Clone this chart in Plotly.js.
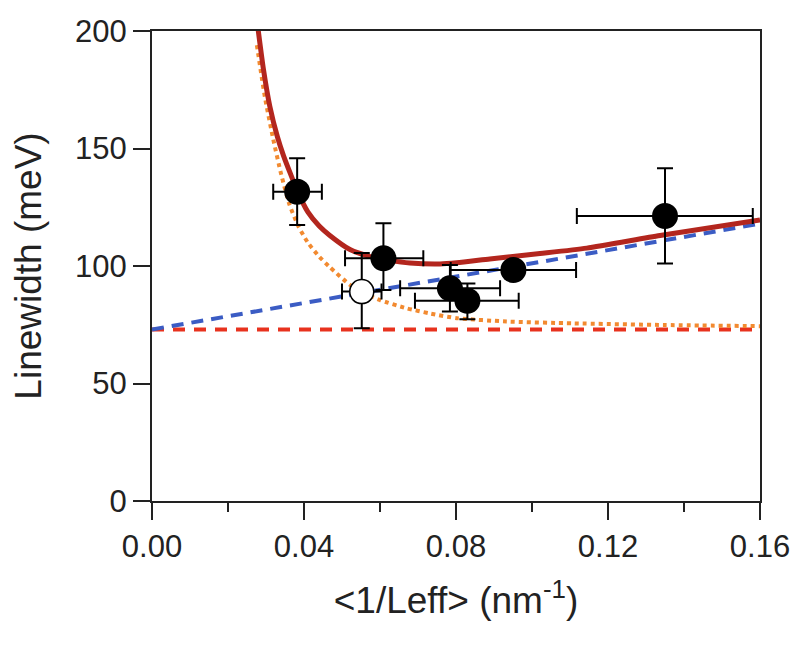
<!DOCTYPE html>
<html>
<head>
<meta charset="utf-8">
<script src="https://cdn.plot.ly/plotly-3.0.1.min.js"></script>
<style>html,body{margin:0;padding:0;background:#fff;}#chart{width:800px;height:647px;}</style>
</head>
<body>
<div id="chart"></div>
<script>
// Measured data points (filled circles)
const ptX = [0.0382, 0.0609, 0.0784, 0.0830, 0.0951, 0.1350];
const ptY = [131.6, 103.3, 90.5, 85.2, 98.3, 121.3];
const ptXErrPlus = [0.0065, 0.0105, 0.0132, 0.0135, 0.0165, 0.0231];
const ptXErrMinus = [0.0063, 0.0101, 0.0131, 0.0138, 0.0165, 0.0232];
const ptYErrPlus = [14.2, 14.9, 9.9, 7.4, 3.0, 20.3];
const ptYErrMinus = [14.2, 13.5, 9.9, 7.9, 3.0, 20.2];

// Open circle point
const openX = [0.0552];
const openY = [89.1];
const openXErr = [0.0052];
const openYErrPlus = [16.4];
const openYErrMinus = [15.6];

// Total fit (solid dark red)
const fitX = [0.0279, 0.0293, 0.0310, 0.0330, 0.0346, 0.0365, 0.0385, 0.0410, 0.0440, 0.0468, 0.0521, 0.0574, 0.0626, 0.0679, 0.0758, 0.0802, 0.0889, 0.1021, 0.1144, 0.1337, 0.1600];
const fitY = [201, 184, 168, 155, 147, 139, 131, 123, 117, 113, 107, 104, 102.4, 101.3, 100.9, 101.4, 103, 105.3, 107.6, 113, 119.6];

// Orange dotted component
const dotX = [0.0276, 0.0297, 0.0319, 0.0340, 0.0362, 0.0385, 0.0410, 0.0440, 0.0468, 0.0521, 0.0565, 0.0600, 0.0670, 0.0732, 0.0802, 0.0933, 0.1108, 0.1350, 0.1600];
const dotY = [194, 172, 154, 139, 126, 117, 110, 104, 99.5, 92, 88, 85.5, 82, 79.8, 77.8, 76.4, 75.6, 74.9, 74.4];

// Blue dashed linear component
const linX = [0, 0.16];
const linY = [73, 118];

// Red dashed constant
const constX = [0, 0.16];
const constY = [73, 73];

const FONT = '"Liberation Sans", Arial, Helvetica, sans-serif';

const traces = [
  {x: constX, y: constY, mode: 'lines', line: {color: '#e8321e', width: 4, dash: '12px,9px'}, hoverinfo: 'skip'},
  {x: dotX, y: dotY, mode: 'lines', line: {color: '#f28a30', width: 4, dash: '4px,4px', shape: 'spline', smoothing: 0.6}, hoverinfo: 'skip'},
  {x: linX, y: linY, mode: 'lines', line: {color: '#3b5cc4', width: 4, dash: '12px,8px'}, hoverinfo: 'skip'},
  {x: fitX, y: fitY, mode: 'lines', line: {color: '#b3261e', width: 5, shape: 'spline', smoothing: 0.6}, hoverinfo: 'skip'},
  {x: openX, y: openY, mode: 'markers',
   marker: {size: 24, color: '#ffffff', line: {color: '#000', width: 1.5}},
   error_x: {type: 'data', array: openXErr, color: '#000', thickness: 2, width: 8},
   error_y: {type: 'data', symmetric: false, array: openYErrPlus, arrayminus: openYErrMinus, color: '#000', thickness: 2, width: 8}},
  {x: ptX, y: ptY, mode: 'markers',
   marker: {size: 26, color: '#000000'},
   error_x: {type: 'data', symmetric: false, array: ptXErrPlus, arrayminus: ptXErrMinus, color: '#000', thickness: 2, width: 8},
   error_y: {type: 'data', symmetric: false, array: ptYErrPlus, arrayminus: ptYErrMinus, color: '#000', thickness: 2, width: 8}}
];

const layout = {
  width: 800, height: 647,
  margin: {l: 152, r: 40, t: 31, b: 146},
  paper_bgcolor: '#fff', plot_bgcolor: '#fff',
  showlegend: false,
  font: {family: FONT, color: '#222'},
  xaxis: {
    range: [0, 0.16], tickvals: [0, 0.04, 0.08, 0.12, 0.16],
    ticktext: ['0.00', '0.04', '0.08', '0.12', '0.16'],
    ticks: 'outside', ticklen: 17, tickwidth: 2, tickcolor: '#222',
    minor: {tickvals: [0.02, 0.06, 0.10, 0.14], ticks: 'outside', ticklen: 9, tickwidth: 2, tickcolor: '#222'},
    showline: true, linecolor: '#222', linewidth: 2, mirror: true,
    showgrid: false, zeroline: false,
    tickfont: {size: 31, family: FONT, color: '#222'},
    title: {text: '&lt;1/Leff&gt; (nm<sup>-1</sup>)', font: {size: 37, family: FONT, color: '#222'}, standoff: 24},
    automargin: false
  },
  yaxis: {
    range: [0, 200], tickvals: [0, 50, 100, 150, 200],
    ticks: 'outside', ticklen: 17, tickwidth: 2, tickcolor: '#222',
    showline: true, linecolor: '#222', linewidth: 2, mirror: true,
    showgrid: false, zeroline: false,
    tickfont: {size: 31, family: FONT, color: '#222'},
    title: {text: 'Linewidth (meV)', font: {size: 37, family: FONT, color: '#222'}, standoff: 22},
    automargin: false
  }
};

Plotly.newPlot('chart', traces, layout, {displayModeBar: false, staticPlot: true});
</script>
</body>
</html>
